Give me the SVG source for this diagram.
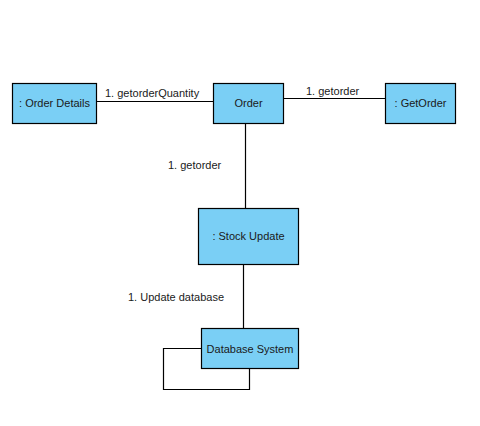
<svg xmlns="http://www.w3.org/2000/svg" width="480" height="426" viewBox="0 0 480 426">
<style>
.n{fill:#7acff5;stroke:#000;stroke-width:1.2}
.t{font-family:"Liberation Sans",Arial,sans-serif;font-size:11px;fill:#1a1a1a}
.c{fill:none;stroke:#000;stroke-width:1.2}
</style>
<rect width="480" height="426" fill="#fff"/>
<g id="connectors">
<line class="c" x1="96.5" y1="101.5" x2="213.5" y2="101.5"/>
<line class="c" x1="283.5" y1="98.5" x2="385.5" y2="98.5"/>
<line class="c" x1="245.5" y1="123.5" x2="245.5" y2="208.5"/>
<line class="c" x1="243.5" y1="264.5" x2="243.5" y2="328.5"/>
<polyline class="c" points="201.5,348.5 163.5,348.5 163.5,389.5 249.5,389.5 249.5,368.5"/>
<text class="t" x="105" y="97">1. getorderQuantity</text>
<text class="t" x="306" y="95">1. getorder</text>
<text class="t" x="168" y="169">1. getorder</text>
<text class="t" x="128" y="301">1. Update database</text>
</g>
<g id="order-details">
<rect class="n" x="12.5" y="83.5" width="84" height="40"/>
<text class="t" x="54.5" y="107" text-anchor="middle">: Order Details</text>
</g>
<g id="order">
<rect class="n" x="213.5" y="83.5" width="70" height="40"/>
<text class="t" x="248.5" y="107" text-anchor="middle">Order</text>
</g>
<g id="getorder">
<rect class="n" x="385.5" y="83.5" width="70" height="40"/>
<text class="t" x="420.5" y="107" text-anchor="middle">: GetOrder</text>
</g>
<g id="stock-update">
<rect class="n" x="198.5" y="208.5" width="100" height="56"/>
<text class="t" x="248.5" y="240" text-anchor="middle">: Stock Update</text>
</g>
<g id="database-system">
<rect class="n" x="201.5" y="328.5" width="97" height="40"/>
<text class="t" x="250" y="352.5" text-anchor="middle">Database System</text>
</g>
</svg>
